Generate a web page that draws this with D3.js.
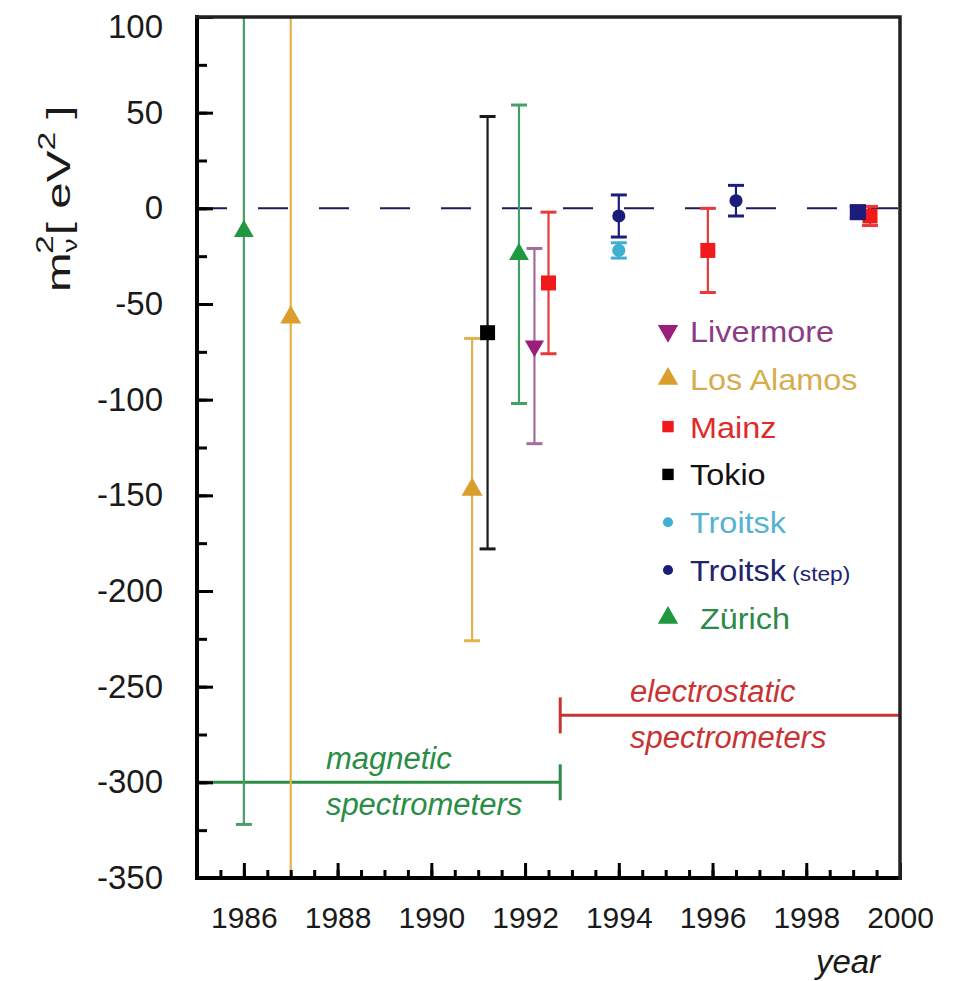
<!DOCTYPE html>
<html>
<head>
<meta charset="utf-8">
<script src="https://cdn.jsdelivr.net/npm/d3@7"></script>
<style>
  body { margin: 0; background: #fff; }
  svg { display: block; font-family: "Liberation Sans", Arial, sans-serif; }
</style>
</head>
<body>
<div id="chart"></div>
<script>
// ============================================================
//  DATA  (year, m_nu^2 in eV^2, error)
// ============================================================

const LIVERMORE      = [{ year: 1992.2,  m2: -72,  err: 51 }];
const LOS_ALAMOS     = [{ year: 1987.0,  m2: -57,  err: 430 },
                        { year: 1990.87, m2: -147, err: 79 }];
const MAINZ          = [{ year: 1992.5,  m2: -39,  err: 37 },
                        { year: 1995.9,  m2: -22,  err: 22 },
                        { year: 1999.36, m2: -4,   err: 5 }];
const TOKIO          = [{ year: 1991.2,  m2: -65,  err: 113 }];
const TROITSK        = [{ year: 1994.0,  m2: -22,  err: 4 }];
const TROITSK_STEP   = [{ year: 1994.0,  m2: -4,   err: 11 },
                        { year: 1996.5,  m2: 4,    err: 8 }];
const TROITSK_1999   = [{ year: 1999.1,  m2: -2,   err: 3 }];
const ZURICH         = [{ year: 1986.0,  m2: -12,  err: 310 },
                        { year: 1991.87, m2: -24,  err: 78 }];

const LEGEND_NAMES = ["Livermore", "Los Alamos", "Mainz", "Tokio", "Troitsk", "Troitsk", "Zürich"];

const Y_TICKS     = [100, 50, 0, -50, -100, -150, -200, -250, -300, -350];
const Y_MINOR     = d3.range(-350, 101, 25);
const X_TICKS     = [1986, 1988, 1990, 1992, 1994, 1996, 1998, 2000];
const X_MINOR     = d3.range(1985, 2000.01, 0.5);

// spectrometer eras: [from, to, level]
const MAGNETIC      = [1985, 1992.75, -300];
const ELECTROSTATIC = [1992.75, 2000, -265];

// ============================================================
//  CONFIGURATION
// ============================================================

const CONFIG = {
    WIDTH: 954,
    HEIGHT: 981,
    MARGIN: { TOP: 17, RIGHT: 54, BOTTOM: 103, LEFT: 197 },
    X_DOMAIN: [1985, 2000],
    Y_DOMAIN: [-350, 100],
    AXIS_WIDTH: 4,
    TICK_WIDTH: 3,
    CAP: 8,
    ZERO_COLOR: "#1c1c5c",
    MAG_COLOR: "#2a8c45",
    ELEC_COLOR: "#c83434",
};

const SERIES = [
    { points: LIVERMORE,    color: "#9a1f7c", bar: "#a56d9c", text: "#8c3c86", sym: "down",     size: 160, legend: 0 },
    { points: LOS_ALAMOS,   color: "#d99e2b", bar: "#e2b24c", text: "#d6ad4e", sym: "up",       size: 190, legend: 1 },
    { points: MAINZ,        color: "#f01a1a", bar: "#e8383a", text: "#e02a2a", sym: "square",   size: 225, legend: 2 },
    { points: TOKIO,        color: "#000000", bar: "#1a1a1a", text: "#111111", sym: "square",   size: 225, legend: 3 },
    { points: TROITSK,      color: "#3fb0d0", bar: "#3fb0d0", text: "#55b3d2", sym: "circle",   size: 135, legend: 4 },
    { points: TROITSK_STEP, color: "#1c1c7c", bar: "#1c1c7c", text: "#22226e", sym: "circle",   size: 135, legend: 5 },
    { points: TROITSK_1999, color: "#1c1c7c", bar: "#1c1c7c", text: "#22226e", sym: "square",   size: 260, legend: -1 },
    { points: ZURICH,       color: "#1f983f", bar: "#46a066", text: "#2a8a48", sym: "up",       size: 170, legend: 6 },
];

const SYMBOLS = {
    up: d3.symbolTriangle,
    down: d3.symbolTriangle,
    square: d3.symbolSquare,
    circle: d3.symbolCircle,
};

// ============================================================
//  DRAW
// ============================================================

const svg = d3.select("#chart").append("svg")
    .attr("width", CONFIG.WIDTH)
    .attr("height", CONFIG.HEIGHT);

const M = CONFIG.MARGIN;
const x = d3.scaleLinear().domain(CONFIG.X_DOMAIN).range([M.LEFT, CONFIG.WIDTH - M.RIGHT]);
const y = d3.scaleLinear().domain(CONFIG.Y_DOMAIN).range([CONFIG.HEIGHT - M.BOTTOM, M.TOP]);

const x0 = x.range()[0], x1 = x.range()[1];
const yBot = y.range()[0], yTop = y.range()[1];

svg.append("clipPath").attr("id", "plot-clip")
    .append("rect")
    .attr("x", x0).attr("y", yTop)
    .attr("width", x1 - x0).attr("height", yBot - yTop);

// --- zero line ---
svg.append("line")
    .attr("x1", x0).attr("x2", x1)
    .attr("y1", y(0)).attr("y2", y(0))
    .attr("stroke", CONFIG.ZERO_COLOR)
    .attr("stroke-width", 2)
    .attr("stroke-dasharray", "30,31");

// --- spectrometer eras ---
function drawEra(era, color, capAtStart, lines, textYear) {
    const [from, to, level] = era;
    const g = svg.append("g").attr("stroke", color).attr("stroke-width", 3);
    g.append("line")
        .attr("x1", x(from)).attr("x2", x(to))
        .attr("y1", y(level)).attr("y2", y(level));
    const cx = capAtStart ? x(from) : x(to);
    g.append("line")
        .attr("x1", cx).attr("x2", cx)
        .attr("y1", y(level) - 18).attr("y2", y(level) + 18);

    const t = svg.append("g")
        .attr("fill", color)
        .style("font-size", "31px")
        .style("font-style", "italic");
    t.append("text").attr("x", x(textYear)).attr("y", y(level) - 13).text(lines[0]);
    t.append("text").attr("x", x(textYear)).attr("y", y(level) + 33).text(lines[1]);
}
drawEra(MAGNETIC, CONFIG.MAG_COLOR, false, ["magnetic", "spectrometers"], 1987.75);
drawEra(ELECTROSTATIC, CONFIG.ELEC_COLOR, true, ["electrostatic", "spectrometers"], 1994.24);

// --- error bars + markers ---
const plot = svg.append("g").attr("clip-path", "url(#plot-clip)");

SERIES.forEach(s => {
    const g = plot.append("g");
    const bars = g.selectAll("g.bar").data(s.points).join("g")
        .attr("class", "bar")
        .attr("stroke", s.bar)
        .attr("stroke-width", 2.2);
    bars.append("line")
        .attr("x1", d => x(d.year)).attr("x2", d => x(d.year))
        .attr("y1", d => y(d.m2 + d.err)).attr("y2", d => y(d.m2 - d.err));
    [1, -1].forEach(sign => {
        bars.append("line")
            .attr("x1", d => x(d.year) - CONFIG.CAP).attr("x2", d => x(d.year) + CONFIG.CAP)
            .attr("y1", d => y(d.m2 + sign * d.err)).attr("y2", d => y(d.m2 + sign * d.err))
            .attr("stroke-width", 3);
    });
});

SERIES.forEach(s => {
    plot.append("g").selectAll("path").data(s.points).join("path")
        .attr("d", d3.symbol().type(SYMBOLS[s.sym]).size(s.size))
        .attr("transform", d => `translate(${x(d.year)},${y(d.m2)})${s.sym === "down" ? " rotate(180)" : ""}`)
        .attr("fill", s.color);
});

// --- axes ---
const axisStyle = sel => {
    sel.select(".domain").remove();
    sel.selectAll(".tick line").attr("stroke", "#000").attr("stroke-width", CONFIG.TICK_WIDTH);
    sel.selectAll(".tick text").attr("fill", "#1a1a1a");
};

svg.append("g")
    .attr("transform", `translate(0,${yBot})`)
    .call(d3.axisBottom(x).tickValues(X_MINOR).tickSize(-8).tickFormat(""))
    .call(axisStyle);

svg.append("g")
    .attr("transform", `translate(0,${yBot})`)
    .call(d3.axisBottom(x).tickValues(X_TICKS).tickSize(-15).tickPadding(29).tickFormat(d => String(d)))
    .call(axisStyle)
    .selectAll(".tick text")
    .style("font-size", "30px");

svg.append("g")
    .attr("transform", `translate(${x0},0)`)
    .call(d3.axisLeft(y).tickValues(Y_MINOR).tickSize(-10).tickFormat(""))
    .call(axisStyle);

svg.append("g")
    .attr("transform", `translate(${x0},0)`)
    .call(d3.axisLeft(y).tickValues(Y_TICKS).tickSize(-16).tickPadding(34).tickFormat(d => String(d)))
    .call(axisStyle)
    .selectAll(".tick text")
    .style("font-size", "33px")
    // top label sits a little lower, as in the original
    .attr("dy", d => d === y.domain()[1] ? "0.62em" : "0.32em");

// frame: thick left + bottom axis, thinner top + right
const frame = svg.append("g").attr("stroke", "#000").attr("fill", "none").attr("stroke-linecap", "square");
frame.append("path")
    .attr("d", `M${x0},${yTop}V${yBot}H${x1}`)
    .attr("stroke-width", CONFIG.AXIS_WIDTH);
frame.append("path")
    .attr("d", `M${x0},${yTop}H${x1}V${yBot}`)
    .attr("stroke", "#222")
    .attr("stroke-width", 3.5);

// --- axis titles ---
const yLabel = svg.append("text")
    .attr("transform", `translate(70,${y(5)}) rotate(-90) scale(1.4,1)`)
    .attr("text-anchor", "middle")
    .attr("fill", "#1a1a1a")
    .style("font-size", "34px");
yLabel.append("tspan").text("m");
yLabel.append("tspan").attr("dy", 7).style("font-size", "20px").text("ν");
yLabel.append("tspan").attr("dx", -11).attr("dy", -24).style("font-size", "24px").text("2");
yLabel.append("tspan").attr("dy", 17).text("[ eV");
yLabel.append("tspan").attr("dy", -15).style("font-size", "24px").text("2");
yLabel.append("tspan").attr("dy", 15).text(" ]");

svg.append("text")
    .attr("x", 848).attr("y", 973)
    .attr("text-anchor", "middle")
    .attr("fill", "#1a1a1a")
    .style("font-size", "33px")
    .style("font-style", "italic")
    .text("year");

// --- legend ---
const legendItems = SERIES.filter(s => s.legend >= 0).sort((a, b) => a.legend - b.legend);
const legend = svg.append("g").attr("transform", "translate(668,331)");
legendItems.forEach((s, i) => {
    const row = legend.append("g").attr("transform", `translate(0,${i * 47.8})`);
    const legendSize = s.sym === "circle" ? 80 : s.sym === "square" ? 130 : 180;
    row.append("path")
        .attr("d", d3.symbol().type(SYMBOLS[s.sym]).size(legendSize))
        .attr("transform", s.sym === "down" ? "rotate(180)" : null)
        .attr("fill", s.color);
    const label = row.append("text")
        .attr("transform", `translate(${s.legend === 6 ? 32 : 22},11) scale(1.08,1)`)
        .attr("fill", s.text)
        .style("font-size", "30px")
        .text(LEGEND_NAMES[s.legend]);
    if (s.legend === 5) {
        label.append("tspan").style("font-size", "21px").text(" (step)");
    }
});
</script>
</body>
</html>
